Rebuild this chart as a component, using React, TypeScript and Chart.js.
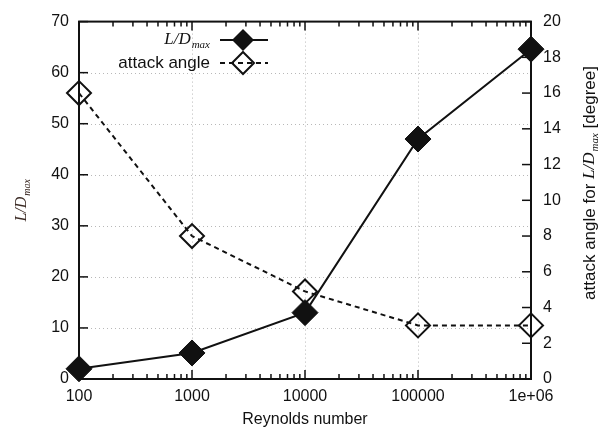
import React, { useEffect, useRef } from "react";
import { Chart, registerables } from "chart.js";

Chart.register(...registerables);

// Reynolds numbers (log x axis)
const reynolds = [100, 1000, 10000, 100000, 1000000];
// maximum lift-to-drag ratio (left axis)
const liftDragMax = [2, 5.1, 13, 47, 64.6];
// attack angle at L/D max, degrees (right axis)
const attackAngle = [16, 8, 4.9, 3, 3];

const xTickLabels: Record<number, string> = {
  100: "100",
  1000: "1000",
  10000: "10000",
  100000: "100000",
  1000000: "1e+06",
};
const leftTicks = [0, 10, 20, 30, 40, 50, 60, 70];
const rightTicks = [0, 2, 4, 6, 8, 10, 12, 14, 16, 18, 20];

const SANS = '"Liberation Sans", Arial, sans-serif';
const SERIF = '"Liberation Serif", "Times New Roman", serif';
const INK = "#111";

function drawDiamond(ctx: CanvasRenderingContext2D, x: number, y: number, r: number, filled: boolean) {
  ctx.beginPath();
  ctx.moveTo(x, y - r);
  ctx.lineTo(x + r, y);
  ctx.lineTo(x, y + r);
  ctx.lineTo(x - r, y);
  ctx.closePath();
  if (filled) {
    ctx.fillStyle = INK;
    ctx.fill();
  } else {
    ctx.lineWidth = 2;
    ctx.strokeStyle = INK;
    ctx.stroke();
  }
}

// "L/D" with a "max" subscript; returns the drawn width
function drawLD(
  ctx: CanvasRenderingContext2D,
  x: number,
  y: number,
  align: "left" | "center" | "right",
  size = 16
) {
  const sub = Math.round(size * 0.62);
  ctx.font = `italic ${size}px ${SERIF}`;
  const w1 = ctx.measureText("L/D").width;
  ctx.font = `italic ${sub}px ${SERIF}`;
  const w2 = ctx.measureText("max").width;
  const total = w1 + w2 + 1;
  let sx = x;
  if (align === "center") sx = x - total / 2;
  if (align === "right") sx = x - total;
  ctx.textAlign = "left";
  ctx.textBaseline = "middle";
  ctx.font = `italic ${size}px ${SERIF}`;
  ctx.fillText("L/D", sx, y);
  ctx.font = `italic ${sub}px ${SERIF}`;
  ctx.fillText("max", sx + w1 + 1, y + size * 0.32);
  return total;
}

function measureLD(ctx: CanvasRenderingContext2D, size: number) {
  const sub = Math.round(size * 0.62);
  ctx.font = `italic ${size}px ${SERIF}`;
  const w1 = ctx.measureText("L/D").width;
  ctx.font = `italic ${sub}px ${SERIF}`;
  return w1 + ctx.measureText("max").width + 1;
}

const framePlugin = {
  id: "gnuFrame",
  beforeDatasetsDraw(chart: any) {
    const { ctx, chartArea: a, scales } = chart;
    const x = scales.x, y = scales.y;
    ctx.save();
    // dotted grid
    ctx.strokeStyle = "#b8b8b8";
    ctx.lineWidth = 1;
    ctx.setLineDash([1, 3]);
    [1000, 10000, 100000].forEach((v) => {
      const px = Math.round(x.getPixelForValue(v)) + 0.5;
      ctx.beginPath();
      ctx.moveTo(px, a.top);
      ctx.lineTo(px, a.bottom);
      ctx.stroke();
    });
    leftTicks.slice(1, -1).forEach((v) => {
      const py = Math.round(y.getPixelForValue(v)) + 0.5;
      ctx.beginPath();
      ctx.moveTo(a.left, py);
      ctx.lineTo(a.right, py);
      ctx.stroke();
    });
    ctx.setLineDash([]);

    // border
    ctx.strokeStyle = INK;
    ctx.lineWidth = 2;
    ctx.strokeRect(a.left, a.top, a.right - a.left, a.bottom - a.top);

    // x ticks (major + minor) on bottom and top, pointing inward
    ctx.lineWidth = 1.5;
    for (let dec = 100; dec <= 1000000; dec *= 10) {
      for (let m = 1; m <= 9; m++) {
        const v = dec * m;
        if (v > 1000000) break;
        const px = x.getPixelForValue(v);
        const len = m === 1 ? 9 : 5;
        ctx.beginPath();
        ctx.moveTo(px, a.bottom);
        ctx.lineTo(px, a.bottom - len);
        ctx.moveTo(px, a.top);
        ctx.lineTo(px, a.top + len);
        ctx.stroke();
      }
    }
    leftTicks.forEach((v) => {
      const py = y.getPixelForValue(v);
      ctx.beginPath();
      ctx.moveTo(a.left, py);
      ctx.lineTo(a.left + 9, py);
      ctx.stroke();
    });
    rightTicks.forEach((v) => {
      const py = scales.y1.getPixelForValue(v);
      ctx.beginPath();
      ctx.moveTo(a.right, py);
      ctx.lineTo(a.right - 9, py);
      ctx.stroke();
    });
    ctx.restore();
  },
  afterDraw(chart: any) {
    const { ctx, chartArea: a } = chart;
    ctx.save();
    ctx.fillStyle = INK;

    // x axis title
    ctx.font = `16px ${SANS}`;
    ctx.textAlign = "center";
    ctx.textBaseline = "middle";
    ctx.fillText("Reynolds number", (a.left + a.right) / 2, 420);

    // left axis title
    const midY = (a.top + a.bottom) / 2;
    ctx.save();
    ctx.translate(22, midY);
    ctx.rotate(-Math.PI / 2);
    ctx.fillStyle = "#3b2a24";
    drawLD(ctx, 0, 0, "center", 16);
    ctx.restore();

    // right axis title
    ctx.save();
    ctx.translate(590, 183);
    ctx.rotate(-Math.PI / 2);
    const fs = 17;
    ctx.font = `${fs}px ${SANS}`;
    const p1 = "attack angle for ";
    const p3 = " [degree]";
    const w1 = ctx.measureText(p1).width;
    const w3 = ctx.measureText(p3).width;
    const wLD = measureLD(ctx, fs);
    const total = w1 + wLD + w3;
    let sx = -total / 2;
    ctx.textAlign = "left";
    ctx.textBaseline = "middle";
    ctx.font = `${fs}px ${SANS}`;
    ctx.fillText(p1, sx, 0);
    sx += w1;
    drawLD(ctx, sx, 0, "left", fs);
    sx += wLD;
    ctx.font = `${fs}px ${SANS}`;
    ctx.textAlign = "left";
    ctx.fillText(p3, sx, 0);
    ctx.restore();

    // legend
    const textRight = 210;
    const row1 = 40, row2 = 63;
    const sx0 = 220, sx1 = 268, mx = 243;
    ctx.fillStyle = INK;
    drawLD(ctx, textRight, row1, "right", 17);
    ctx.font = `17px ${SANS}`;
    ctx.textAlign = "right";
    ctx.textBaseline = "middle";
    ctx.fillText("attack angle", textRight, row2);

    ctx.strokeStyle = INK;
    ctx.lineWidth = 2;
    ctx.beginPath();
    ctx.moveTo(sx0, row1);
    ctx.lineTo(sx1, row1);
    ctx.stroke();
    drawDiamond(ctx, mx, row1, 11, true);

    ctx.setLineDash([5, 4]);
    ctx.beginPath();
    ctx.moveTo(sx0, row2);
    ctx.lineTo(sx1, row2);
    ctx.stroke();
    ctx.setLineDash([]);
    drawDiamond(ctx, mx, row2, 11, false);
    ctx.restore();
  },
};

export default function App() {
  const canvasRef = useRef<HTMLCanvasElement | null>(null);

  useEffect(() => {
    document.body.style.margin = "0";
    const canvas = canvasRef.current;
    if (!canvas) return;
    const chart = new Chart(canvas, {
      type: "line",
      data: {
        labels: reynolds,
        datasets: [
          {
            label: "L/D max",
            data: reynolds.map((r, i) => ({ x: r, y: liftDragMax[i] })),
            yAxisID: "y",
            borderColor: INK,
            borderWidth: 2,
            pointStyle: "rectRot",
            pointRadius: 13,
            pointBackgroundColor: INK,
            pointBorderColor: INK,
            pointBorderWidth: 1,
            fill: false,
            tension: 0,
            clip: false,
          },
          {
            label: "attack angle",
            data: reynolds.map((r, i) => ({ x: r, y: attackAngle[i] })),
            yAxisID: "y1",
            borderColor: INK,
            borderWidth: 2,
            borderDash: [5, 4],
            pointStyle: "rectRot",
            pointRadius: 12,
            pointBackgroundColor: "rgba(0,0,0,0)",
            pointBorderColor: INK,
            pointBorderWidth: 2,
            fill: false,
            tension: 0,
            clip: false,
          },
        ],
      },
      options: {
        animation: false,
        responsive: false,
        maintainAspectRatio: false,
        layout: { padding: { top: 17, left: 0, right: 0, bottom: 0 } },
        plugins: {
          legend: { display: false },
          tooltip: { enabled: false },
        },
        scales: {
          x: {
            type: "logarithmic",
            min: 100,
            max: 1000000,
            grid: { display: false, drawTicks: false },
            border: { display: false },
            ticks: {
              autoSkip: false,
              maxRotation: 0,
              padding: 8,
              color: INK,
              font: { family: SANS, size: 16 },
              callback: (v: any) => xTickLabels[Number(v)] ?? "",
            },
            afterFit: (s: any) => {
              s.height = 53;
            },
          },
          y: {
            type: "linear",
            position: "left",
            min: 0,
            max: 70,
            grid: { display: false, drawTicks: false },
            border: { display: false },
            ticks: {
              stepSize: 10,
              padding: 10,
              color: INK,
              font: { family: SANS, size: 16 },
            },
            afterFit: (s: any) => {
              s.width = 79;
            },
          },
          y1: {
            type: "linear",
            position: "right",
            min: 0,
            max: 20,
            grid: { display: false, drawTicks: false },
            border: { display: false },
            ticks: {
              stepSize: 2,
              padding: 12,
              color: INK,
              font: { family: SANS, size: 16 },
            },
            afterFit: (s: any) => {
              s.width = 76;
            },
          },
        },
      },
      plugins: [framePlugin],
    });
    return () => chart.destroy();
  }, []);

  return (
    <div style={{ width: 607, height: 432, background: "#fff" }}>
      <canvas ref={canvasRef} width={607} height={432} style={{ display: "block" }} />
    </div>
  );
}
